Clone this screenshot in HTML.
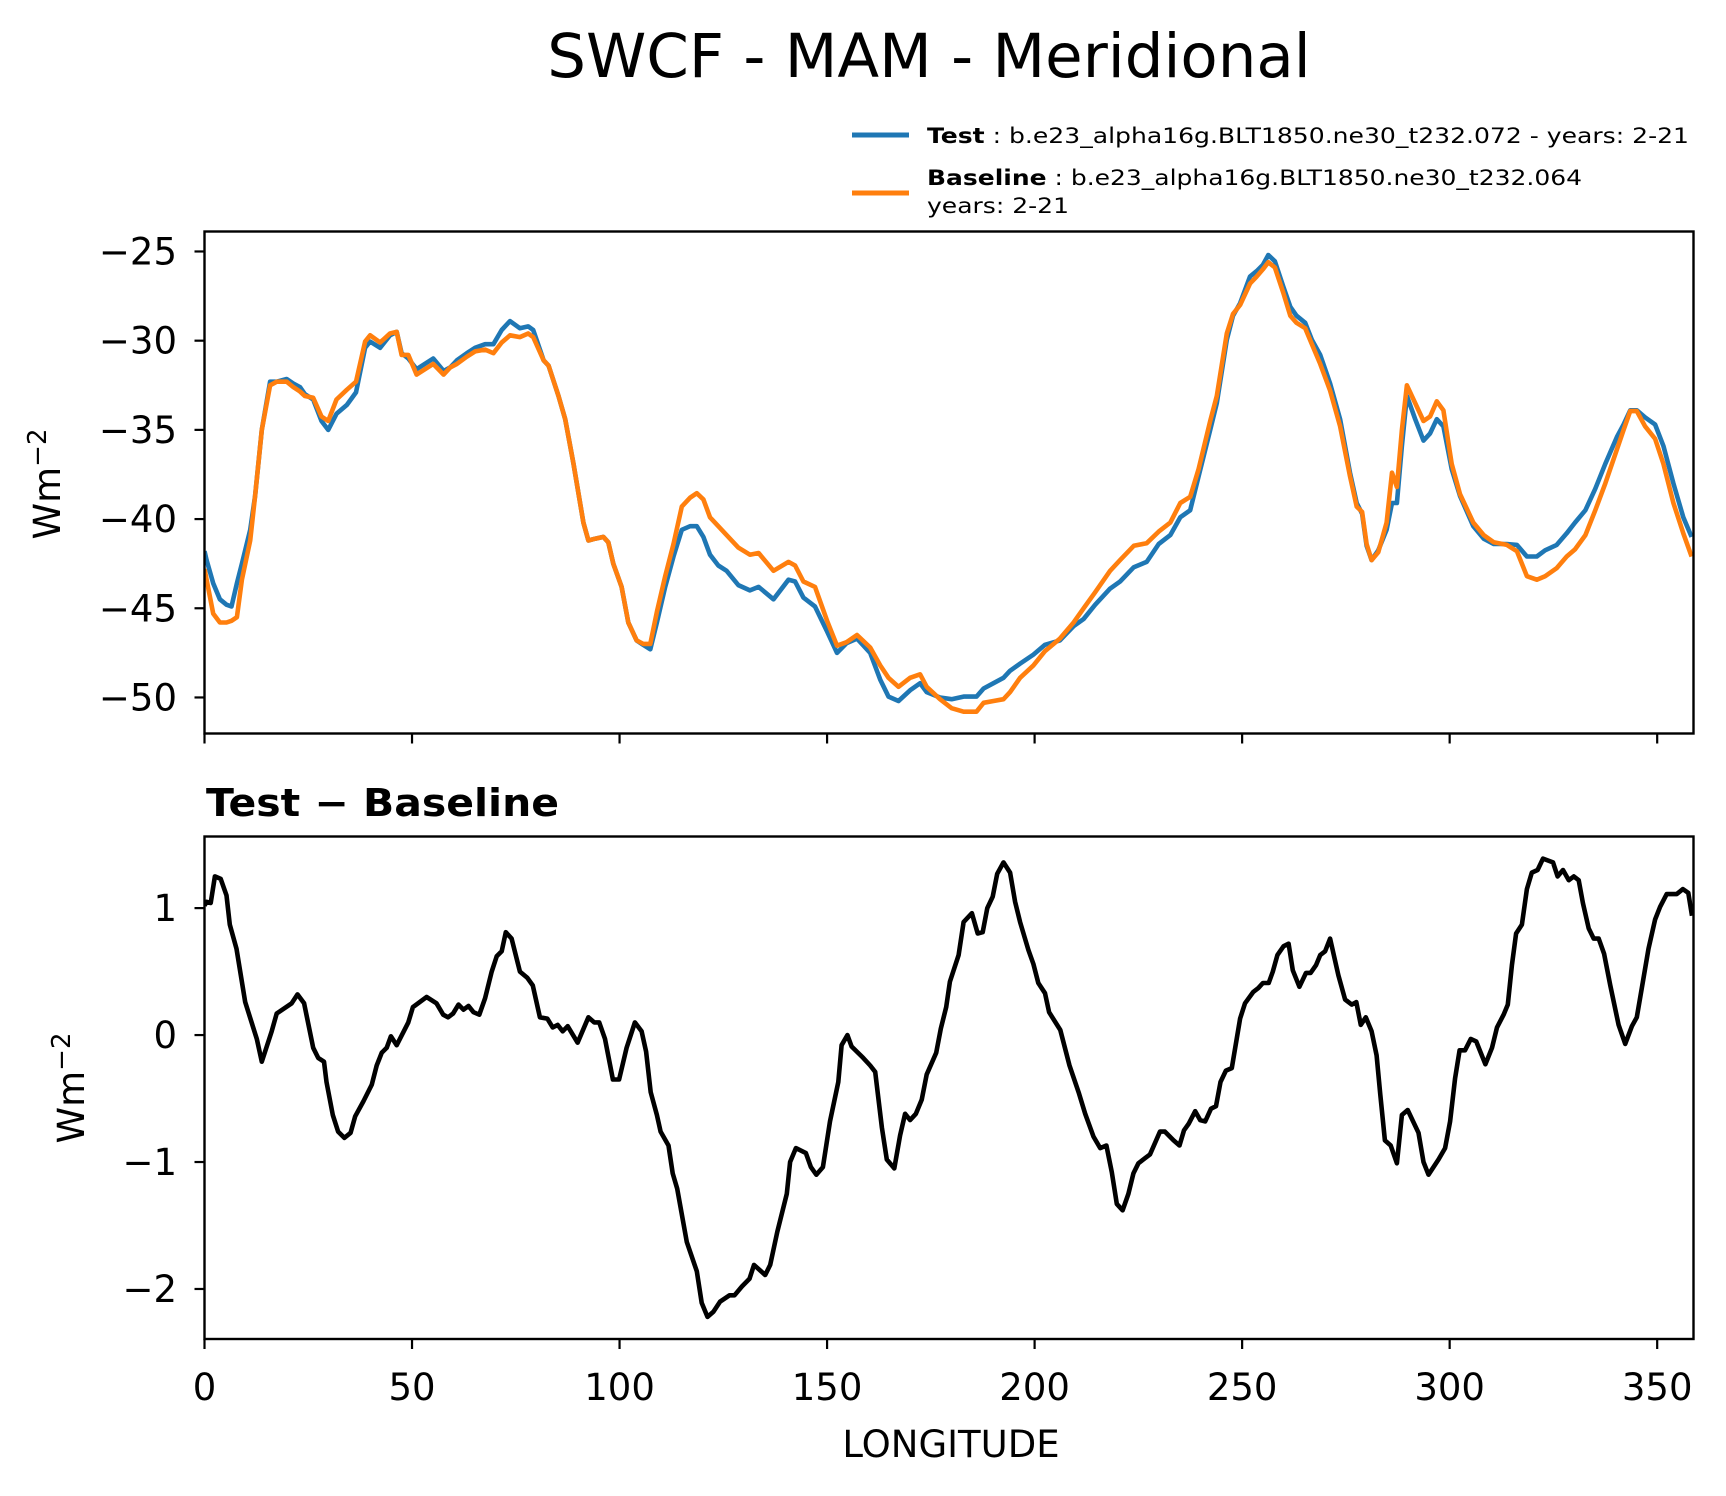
<!DOCTYPE html>
<html><head><meta charset="utf-8"><style>
html,body{margin:0;padding:0;background:#fff;}
svg{display:block;font-family:"DejaVu Sans","Liberation Sans",sans-serif;}
</style></head><body>
<svg id="fig" width="1726" height="1496" viewBox="0 0 1726 1496" xmlns="http://www.w3.org/2000/svg">
<rect width="1726" height="1496" fill="#fff"/>
<text x="929" y="77" font-size="61" text-anchor="middle">SWCF - MAM - Meridional</text>
<g>
<line x1="852" y1="135" x2="909" y2="135" stroke="#1f77b4" stroke-width="5"/>
<text x="927" y="143" font-size="21" textLength="762" lengthAdjust="spacingAndGlyphs"><tspan font-weight="bold">Test</tspan> : b.e23_alpha16g.BLT1850.ne30_t232.072 - years: 2-21</text>
<line x1="852" y1="193" x2="909" y2="193" stroke="#ff7f0e" stroke-width="5"/>
<text x="927" y="185" font-size="21" textLength="655" lengthAdjust="spacingAndGlyphs"><tspan font-weight="bold">Baseline</tspan> : b.e23_alpha16g.BLT1850.ne30_t232.064</text>
<text x="927" y="213" font-size="21" textLength="142" lengthAdjust="spacingAndGlyphs">years: 2-21</text>
</g>
<text x="206" y="816" font-size="38" font-weight="bold" textLength="353" lengthAdjust="spacingAndGlyphs">Test − Baseline</text>
<text x="951" y="1457" font-size="37" text-anchor="middle">LONGITUDE</text>
<text transform="translate(60,484) rotate(-90)" font-size="37" text-anchor="middle">Wm<tspan font-size="26" dy="-14">−2</tspan></text>
<text transform="translate(84,1088) rotate(-90)" font-size="37" text-anchor="middle">Wm<tspan font-size="26" dy="-14">−2</tspan></text>
<g id="top"></g>
<g id="bot"></g>
</svg>
<script>
const topLon=[0,0.5,2.1,3.7,5.3,6.5,7.8,9.0,11.0,12.2,13.8,15.8,17.4,19.8,21.4,23.0,24.2,26.2,28.2,29.8,31.8,34.3,36.5,38.7,39.9,42.3,44.7,46.3,47.5,49.1,51.1,55.1,57.6,59.2,60.8,63.2,65.2,67.6,69.6,71.6,73.6,76.0,78.0,79.2,81.7,82.9,85.3,86.9,88.9,91.3,92.5,94.1,96.1,97.3,98.5,100.5,102.1,104.1,105.7,107.4,109.0,111.0,113.0,115.0,117.0,118.6,120.2,121.8,123.8,125.8,128.6,131.4,133.5,137.1,140.7,142.3,144.3,147.1,150.0,152.4,154.7,157.2,160.4,162.8,164.8,167.2,170.0,172.4,174.0,177.2,180.0,182.9,186.0,187.7,190.1,192.5,194.1,196.5,199.7,202.5,206.1,209.4,211.8,214.6,218.2,220.6,223.9,227.0,229.9,232.7,235.1,237.5,239.5,242.3,243.9,246.3,247.8,249.5,251.9,253.5,255.0,256.3,257.9,259.9,261.6,263.1,265.2,266.8,268.8,271.2,273.6,276.0,277.6,278.9,280.0,281.2,282.8,284.8,286.1,287.3,288.5,289.7,291.7,293.7,295.3,296.9,298.5,300.5,302.5,305.7,308.2,310.6,313.8,316.2,318.6,321.0,323.0,325.8,328.2,330.2,332.7,335.1,337.5,340.3,341.9,343.5,345.1,347.1,349.5,351.5,353.9,356.3,358.3];
const testVals=[-41.8,-42.3,-43.6,-44.5,-44.8,-44.9,-43.6,-42.5,-40.6,-38.7,-35.0,-32.3,-32.3,-32.15,-32.4,-32.6,-33.0,-33.3,-34.5,-35.0,-34.1,-33.6,-32.9,-30.4,-30.05,-30.4,-29.7,-29.5,-30.7,-31.0,-31.6,-31.0,-31.7,-31.5,-31.1,-30.7,-30.4,-30.2,-30.2,-29.4,-28.9,-29.3,-29.2,-29.4,-31.1,-31.4,-33.1,-34.4,-36.9,-40.2,-41.2,-41.1,-41.0,-41.3,-42.5,-43.8,-45.8,-46.8,-47.05,-47.3,-45.8,-43.8,-42.1,-40.6,-40.4,-40.4,-41.0,-42.0,-42.6,-42.9,-43.7,-44.0,-43.8,-44.5,-43.4,-43.5,-44.4,-44.9,-46.3,-47.5,-46.95,-46.7,-47.5,-49.0,-49.95,-50.2,-49.6,-49.2,-49.7,-50.0,-50.1,-49.95,-49.95,-49.5,-49.2,-48.9,-48.5,-48.1,-47.6,-47.05,-46.8,-46.0,-45.6,-44.8,-43.9,-43.5,-42.7,-42.4,-41.4,-40.9,-39.9,-39.5,-37.6,-35.0,-33.5,-29.95,-28.6,-27.9,-26.4,-26.1,-25.75,-25.2,-25.55,-26.95,-28.1,-28.6,-29.0,-29.95,-30.8,-32.4,-34.4,-37.4,-39.1,-39.7,-41.5,-42.3,-41.75,-40.6,-39.1,-39.1,-35.9,-33.1,-34.4,-35.6,-35.2,-34.4,-34.8,-37.2,-38.7,-40.4,-41.1,-41.4,-41.4,-41.45,-42.1,-42.1,-41.75,-41.45,-40.8,-40.2,-39.5,-38.3,-36.9,-35.4,-34.7,-33.9,-33.9,-34.3,-34.7,-35.9,-38.0,-39.9,-41.0];
const baseVals=[-42.8,-43.4,-45.3,-45.8,-45.8,-45.7,-45.5,-43.4,-41.2,-38.7,-35.0,-32.5,-32.3,-32.3,-32.6,-32.85,-33.1,-33.2,-34.25,-34.5,-33.3,-32.75,-32.3,-30.05,-29.7,-30.1,-29.6,-29.5,-30.8,-30.8,-31.9,-31.3,-31.9,-31.5,-31.3,-30.9,-30.6,-30.5,-30.7,-30.1,-29.7,-29.8,-29.6,-29.8,-31.1,-31.4,-33.1,-34.4,-36.9,-40.2,-41.2,-41.1,-41.0,-41.3,-42.5,-43.8,-45.8,-46.8,-47.0,-47.0,-45.2,-43.2,-41.4,-39.3,-38.8,-38.55,-38.9,-39.9,-40.4,-40.9,-41.6,-42.0,-41.9,-42.9,-42.4,-42.6,-43.5,-43.8,-45.7,-47.1,-46.9,-46.5,-47.2,-48.2,-48.9,-49.4,-48.9,-48.7,-49.4,-50.1,-50.6,-50.8,-50.8,-50.3,-50.2,-50.1,-49.7,-48.9,-48.2,-47.4,-46.7,-45.8,-45.0,-44.1,-42.9,-42.3,-41.5,-41.35,-40.7,-40.2,-39.1,-38.75,-37.2,-34.5,-33.1,-29.6,-28.5,-28.0,-26.8,-26.4,-26.0,-25.6,-25.9,-27.3,-28.6,-29.0,-29.3,-30.2,-31.3,-32.8,-34.8,-37.6,-39.3,-39.6,-41.4,-42.3,-41.85,-40.2,-37.4,-38.2,-35.0,-32.5,-33.5,-34.5,-34.25,-33.4,-33.9,-36.9,-38.6,-40.2,-40.9,-41.3,-41.45,-41.8,-43.2,-43.4,-43.2,-42.75,-42.1,-41.7,-40.9,-39.5,-38.0,-36.1,-35.0,-33.95,-33.95,-34.8,-35.5,-36.9,-39.1,-40.8,-42.1];
const diffLon=[0,0.5,1.5,2.5,3.9,5.3,6.1,7.7,9.8,12.6,13.8,16.2,17.4,21.0,22.4,24.0,26.2,27.4,28.8,29.4,30.9,32.2,33.7,35.2,36.3,38.3,40.3,41.5,42.7,43.9,44.9,46.3,49.1,50.2,53.5,55.9,57.5,58.7,59.9,61.2,62.4,63.6,64.8,66.2,67.6,69.2,70.4,71.6,72.6,74.0,76.0,77.8,79.1,80.8,82.6,83.9,85.1,86.3,87.5,89.9,92.5,93.9,95.1,96.5,98.4,99.9,101.7,103.7,105.3,106.4,107.5,109.0,109.9,111.8,112.8,113.9,116.2,118.6,119.8,121.2,122.6,124.2,126.5,127.7,129.5,131.3,132.4,135.1,136.3,138.0,140.3,141.1,142.5,144.9,146.1,147.4,149.0,150.7,152.7,153.5,154.9,155.9,158.7,160.4,161.6,163.2,164.4,166.2,167.6,168.8,170.0,171.4,172.8,174.0,176.3,177.4,178.7,179.6,181.7,182.9,184.9,186.3,187.5,188.6,189.9,191.0,192.5,194.1,195.3,196.5,198.5,199.7,200.9,202.5,203.5,206.2,208.4,210.6,212.2,214.2,215.8,217.3,218.6,219.8,221.2,222.6,223.8,225.0,226.6,227.8,230.2,231.4,233.5,234.9,236.0,237.1,238.7,239.9,241.1,242.5,243.7,244.8,246.1,247.5,249.5,250.7,252.7,253.9,255.0,256.4,257.4,258.5,260.0,261.2,262.2,263.8,265.4,266.5,267.8,268.8,270.0,271.2,273.2,274.8,276.4,277.5,278.6,279.8,281.2,282.4,283.3,284.4,285.8,287.3,288.5,289.9,292.5,293.7,294.9,297.3,298.9,300.1,301.3,302.4,303.7,305.1,306.4,308.6,310.2,311.4,313.0,314.0,315.0,316.0,317.4,318.6,319.8,321.2,322.5,324.9,326.0,327.3,328.7,329.9,331.1,332.1,333.5,334.7,335.9,337.2,338.7,340.7,342.3,343.9,345.1,346.3,347.9,349.5,350.7,352.3,354.7,356.2,357.5,358.4];
const diffVals=[1.02,1.05,1.04,1.25,1.23,1.10,0.87,0.68,0.26,-0.03,-0.21,0.03,0.17,0.25,0.32,0.25,-0.10,-0.18,-0.21,-0.37,-0.63,-0.76,-0.81,-0.77,-0.64,-0.52,-0.39,-0.24,-0.14,-0.10,-0.01,-0.08,0.10,0.22,0.30,0.25,0.16,0.14,0.17,0.24,0.20,0.23,0.18,0.16,0.29,0.50,0.62,0.66,0.81,0.76,0.50,0.45,0.39,0.14,0.13,0.06,0.08,0.03,0.07,-0.06,0.14,0.10,0.10,-0.03,-0.35,-0.35,-0.10,0.10,0.03,-0.13,-0.45,-0.63,-0.76,-0.87,-1.09,-1.21,-1.63,-1.86,-2.11,-2.22,-2.18,-2.10,-2.05,-2.05,-1.98,-1.92,-1.81,-1.89,-1.81,-1.55,-1.25,-1.00,-0.89,-0.93,-1.04,-1.10,-1.04,-0.68,-0.37,-0.08,0.00,-0.09,-0.18,-0.24,-0.29,-0.73,-0.98,-1.05,-0.79,-0.62,-0.67,-0.62,-0.51,-0.31,-0.14,0.05,0.22,0.42,0.63,0.89,0.96,0.80,0.81,1.00,1.09,1.27,1.36,1.28,1.05,0.89,0.67,0.56,0.41,0.33,0.18,0.04,-0.24,-0.45,-0.62,-0.80,-0.89,-0.87,-1.08,-1.33,-1.38,-1.25,-1.09,-1.01,-0.97,-0.94,-0.76,-0.76,-0.83,-0.87,-0.75,-0.70,-0.60,-0.67,-0.68,-0.58,-0.56,-0.37,-0.28,-0.26,0.13,0.25,0.34,0.37,0.41,0.41,0.50,0.63,0.70,0.72,0.51,0.38,0.49,0.49,0.55,0.63,0.66,0.76,0.47,0.28,0.24,0.26,0.08,0.14,0.03,-0.16,-0.47,-0.83,-0.87,-1.01,-0.63,-0.59,-0.77,-1.00,-1.10,-0.98,-0.89,-0.68,-0.34,-0.12,-0.12,-0.03,-0.05,-0.23,-0.10,0.06,0.16,0.24,0.55,0.80,0.87,1.15,1.28,1.30,1.39,1.36,1.25,1.30,1.22,1.25,1.22,1.04,0.84,0.76,0.76,0.64,0.39,0.08,-0.07,0.07,0.14,0.37,0.68,0.91,1.01,1.11,1.11,1.15,1.12,0.94];
const xTicks=[0,50,100,150,200,250,300,350];
const topYTicks=[-50,-45,-40,-35,-30,-25];
const botYTicks=[-2,-1,0,1];

const NS='http://www.w3.org/2000/svg';
const L=204.5,R=1693.5;
const xmin=0,xmax=358.75;
function sx(v){return L+(v-xmin)/(xmax-xmin)*(R-L);}
function mk(tag,attrs,parent){const e=document.createElementNS(NS,tag);for(const k in attrs)e.setAttribute(k,attrs[k]);parent.appendChild(e);return e;}
function fmt(v){return v<0?'\u2212'+Math.abs(v):String(v);}

function panel(g,top,bot,ymin,ymax,yticks,labelsX,prefix){
  const sy=v=>bot-(v-ymin)/(ymax-ymin)*(bot-top);
  const clipId=prefix+'-clip';
  const cp=mk('clipPath',{id:clipId},g);
  mk('rect',{x:L,y:top,width:R-L,height:bot-top},cp);
  yticks.forEach(t=>{
    const y=sy(t);
    const tk=mk('line',{x1:L-10,y1:y,x2:L,y2:y,stroke:'#000','stroke-width':2.2},g);
    
    
    const tl=mk('text',{x:177,y:y+13,'font-size':37,'text-anchor':'end'},g);
    tl.textContent=fmt(t);
    
    
  });
  xTicks.forEach(t=>{
    const x=sx(t);
    const tk=mk('line',{x1:x,y1:bot,x2:x,y2:bot+10,stroke:'#000','stroke-width':2.2},g);
    
    
    if(labelsX){
      const tl=mk('text',{x:x,y:1400,'font-size':37,'text-anchor':'middle'},g);
      tl.textContent=String(t);
      
      
    }
  });
  return {sy,clipId};
}
function drawLine(g,lons,vals,sy,color,name,clipId){
  const d=lons.map((v,i)=>(i?'L':'M')+sx(v).toFixed(1)+','+sy(vals[i]).toFixed(1)).join(' ');
  const p=mk('path',{d:d,fill:'none',stroke:color,'stroke-width':4.6,'stroke-linejoin':'round','clip-path':'url(#'+clipId+')'},g);
  
  
}
const gt=document.getElementById('top');
const T=panel(gt,231.5,733.5,-52.02,-23.88,topYTicks,false,'top');
drawLine(gt,topLon,testVals,T.sy,'#1f77b4','test-series-line',T.clipId);
drawLine(gt,topLon,baseVals,T.sy,'#ff7f0e','baseline-series-line',T.clipId);
const f1=mk('rect',{x:L,y:231.5,width:R-L,height:502,fill:'none',stroke:'#000','stroke-width':2.4},gt);



const gb=document.getElementById('bot');
const B=panel(gb,836.5,1339,-2.394,1.564,botYTicks,true,'bottom');
drawLine(gb,diffLon,diffVals,B.sy,'#000','difference-line',B.clipId);
const f2=mk('rect',{x:L,y:836.5,width:R-L,height:502.5,fill:'none',stroke:'#000','stroke-width':2.4},gb);


</script>
</body></html>
